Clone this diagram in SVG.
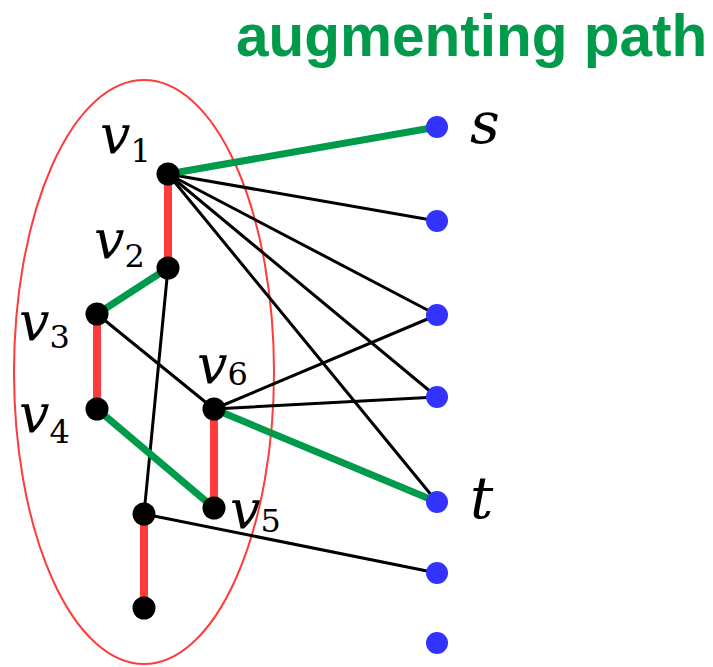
<svg xmlns="http://www.w3.org/2000/svg" width="713" height="667" viewBox="0 0 713 667">
<style>
.blk{stroke:#000;stroke-width:3;fill:none;stroke-linecap:round}
.grn{stroke:#009A4B;stroke-width:7;fill:none;stroke-linecap:butt}
.red{stroke:#FF3B3B;stroke-width:8;fill:none}
.bn{fill:#000}
.rn{fill:#3333FF}
.lbl{font-family:"DejaVu Serif","Liberation Serif",serif;font-style:italic;font-size:54px;fill:#000}
.big{font-size:58px}
.sub{font-style:normal;font-size:32px}
.title{font-family:"Liberation Sans",Arial,sans-serif;font-weight:bold;font-size:58.5px;fill:#009A4B}
</style>
<rect width="713" height="667" fill="#fff"/>
<text class="title" x="236" y="56">augmenting path</text>
<ellipse cx="144" cy="372" rx="130" ry="292" fill="none" stroke="#FF3B3B" stroke-width="2"/>
<g id="connectors">
<line class="blk" x1="168" y1="174" x2="437" y2="221"/>
<line class="blk" x1="168" y1="174" x2="437" y2="315"/>
<line class="blk" x1="168" y1="174" x2="437" y2="397"/>
<line class="blk" x1="168" y1="174" x2="437" y2="502"/>
<line class="blk" x1="168" y1="268" x2="144" y2="514"/>
<line class="blk" x1="97" y1="314" x2="214" y2="409"/>
<line class="blk" x1="214" y1="409" x2="437" y2="315"/>
<line class="blk" x1="214" y1="409" x2="437" y2="397"/>
<line class="blk" x1="144" y1="514" x2="437" y2="573"/>
<line class="grn" x1="168" y1="174" x2="437" y2="127"/>
<line class="grn" x1="168" y1="268" x2="97" y2="314"/>
<line class="grn" x1="97" y1="409" x2="214" y2="508"/>
<line class="grn" x1="214" y1="409" x2="437" y2="502"/>
<line class="red" x1="168" y1="174" x2="168" y2="268"/>
<line class="red" x1="97" y1="314" x2="97" y2="409"/>
<line class="red" x1="214" y1="409" x2="214" y2="508"/>
<line class="red" x1="144" y1="514" x2="144" y2="608"/>
</g>
<g id="v1"><circle class="bn" cx="168" cy="174" r="11.5"/><text class="lbl" x="100" y="153">v<tspan class="sub" dy="9">1</tspan></text></g>
<g id="v2"><circle class="bn" cx="168" cy="268" r="11.5"/><text class="lbl" x="94" y="258">v<tspan class="sub" dy="9">2</tspan></text></g>
<g id="v3"><circle class="bn" cx="97" cy="314" r="11.5"/><text class="lbl" x="19" y="340">v<tspan class="sub" dy="8">3</tspan></text></g>
<g id="v4"><circle class="bn" cx="97" cy="409" r="11.5"/><text class="lbl" x="19" y="432">v<tspan class="sub" dy="11">4</tspan></text></g>
<g id="v5"><circle class="bn" cx="214" cy="508" r="11.5"/><text class="lbl" x="230" y="528">v<tspan class="sub" dy="4">5</tspan></text></g>
<g id="v6"><circle class="bn" cx="214" cy="409" r="11.5"/><text class="lbl" x="197" y="383">v<tspan class="sub" dy="2">6</tspan></text></g>
<g id="v7"><circle class="bn" cx="144" cy="514" r="11.5"/></g>
<g id="v8"><circle class="bn" cx="144" cy="608" r="11.5"/></g>
<g id="s"><circle class="rn" cx="437" cy="127" r="11"/><text class="lbl big" x="470" y="143">s</text></g>
<g id="r2"><circle class="rn" cx="437" cy="221" r="11"/></g>
<g id="r3"><circle class="rn" cx="437" cy="315" r="11"/></g>
<g id="r4"><circle class="rn" cx="437" cy="397" r="11"/></g>
<g id="t"><circle class="rn" cx="437" cy="502" r="11"/><text class="lbl big" x="470" y="518">t</text></g>
<g id="r6"><circle class="rn" cx="437" cy="573" r="11"/></g>
<g id="r7"><circle class="rn" cx="437" cy="643" r="11"/></g>
</svg>
